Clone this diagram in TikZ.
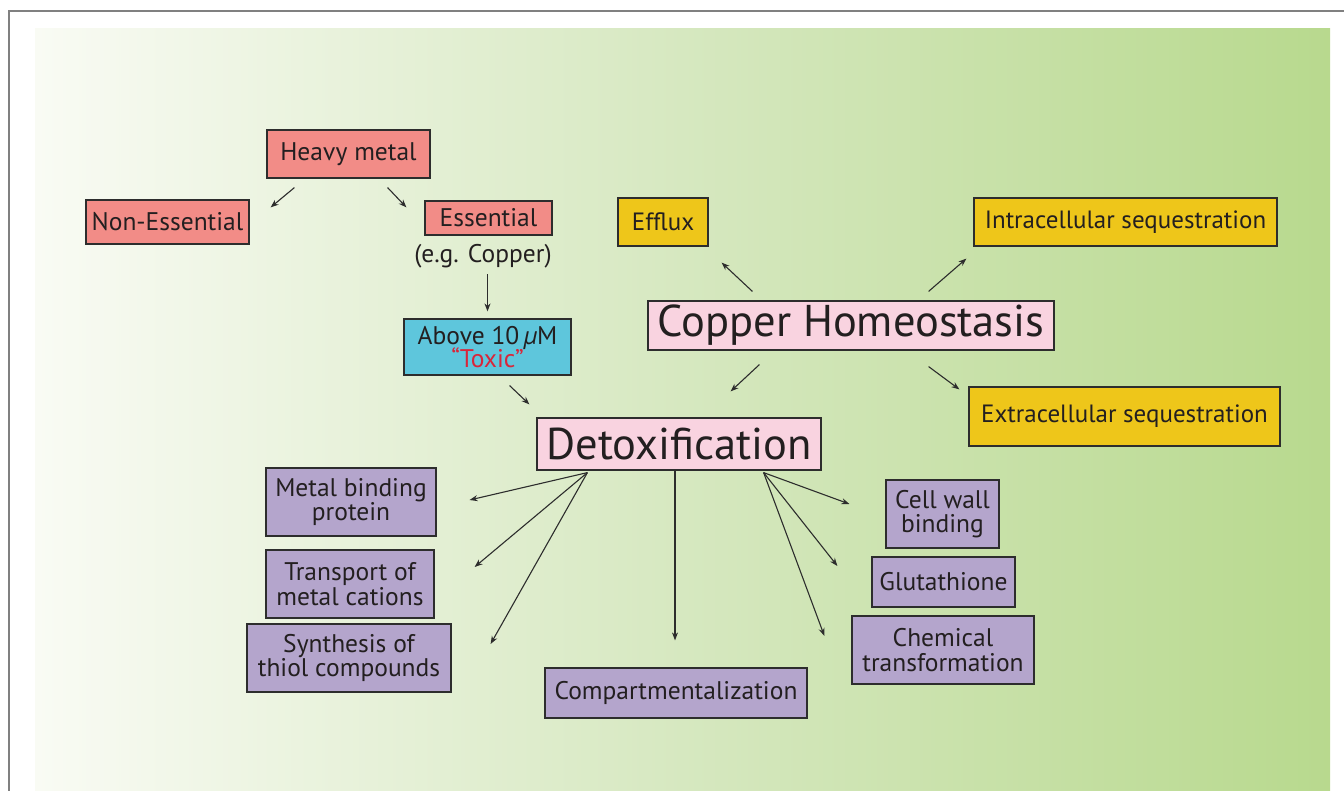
\documentclass[tikz,border=0pt]{standalone}
\usepackage{fontspec}
\setmainfont{PT Sans}
\usetikzlibrary{calc,arrows.meta}
\definecolor{salmon}{RGB}{242,140,135}
\definecolor{cyanbox}{RGB}{94,198,220}
\definecolor{pinkbox}{RGB}{249,211,224}
\definecolor{goldbox}{RGB}{238,198,26}
\definecolor{lavbox}{RGB}{180,165,204}
\definecolor{edge}{RGB}{45,45,45}
\definecolor{ink}{RGB}{35,31,32}
\definecolor{toxred}{RGB}{217,38,58}
\definecolor{bgL}{RGB}{249,251,244}
\definecolor{bgM}{RGB}{214,232,192}
\definecolor{bgR}{RGB}{184,217,142}
\tikzset{
  x=1pt,y=-1pt,
  box/.style={draw=edge,line width=1.2pt,inner sep=0pt,align=center,text=ink,font=\fontsize{25.5}{24.5}\selectfont},
  redbox/.style={box,fill=salmon},
  bluebox/.style={box,fill=cyanbox},
  bigbox/.style={box,fill=pinkbox,font=\fontsize{44.5}{46}\selectfont},
  yelbox/.style={box,fill=goldbox,font=\fontsize{25}{26}\selectfont},
  purbox/.style={box,fill=lavbox},
  arr/.style={draw=edge,line width=1.1pt,-{Stealth[length=8pt,width=6pt]}}
}
\begin{document}
\begin{tikzpicture}
\useasboundingbox (0,0) rectangle (1344,791);
\fill[white] (0,0) rectangle (1344,791);
\shade[left color=bgL,right color=bgR,middle color=bgM] (35,29) rectangle (1330,791);
\draw[gray,line width=1.2pt] (1344,11) -- (9,11) -- (9,791);

\node[redbox,minimum width=163,minimum height=48] (heavy) at (348.5,154) {Heavy metal};
\node[redbox,minimum width=163,minimum height=44] (noness) at (167.5,222) {Non-Essential};
\node[redbox,minimum width=127,minimum height=34] (ess) at (488.5,218) {Essential};
\node[text=ink,font=\fontsize{25.5}{25}\selectfont,inner sep=0pt] (eg) at (483,256) {(e.g. Copper)};
\node[bluebox,minimum width=167,minimum height=56] (above) at (487.5,347) {Above 10\,\textit{µ}M\\[-3pt]\textcolor{toxred}{“Toxic”}};

\node[bigbox,minimum width=406,minimum height=49] (ch) at (851,325.5) {Copper Homeostasis};
\node[yelbox,minimum width=90,minimum height=48] (efflux) at (663,222) {Efflux};
\node[yelbox,minimum width=303,minimum height=48] (intra) at (1125.5,222) {Intracellular sequestration};
\node[yelbox,minimum width=311,minimum height=59] (extra) at (1124.5,416.5) {Extracellular sequestration};

\node[bigbox,minimum width=284,minimum height=52] (detox) at (679,444) {Detoxification};
\node[purbox,minimum width=170,minimum height=68] (mbp) at (351,502) {Metal binding\\protein};
\node[purbox,minimum width=168,minimum height=68] (trans) at (350,584) {Transport of\\metal cations};
\node[purbox,minimum width=204,minimum height=68] (synth) at (349,658) {Synthesis of\\thiol compounds};
\node[purbox,minimum width=262,minimum height=50] (comp) at (676,693) {Compartmentalization};
\node[purbox,minimum width=113,minimum height=68] (cell) at (942.5,514) {Cell wall\\binding};
\node[purbox,minimum width=143,minimum height=50] (glut) at (943.5,582) {Glutathione};
\node[purbox,minimum width=182,minimum height=68] (chem) at (943,650) {Chemical\\transformation};

\draw[arr] ($(heavy.south west)+(28,9)$) -- ($(noness.north east)+(21,8)$);
\draw[arr] ($(heavy.south east)+(-43,9)$) -- ($(ess.north west)+(-18,7)$);
\draw[arr] ($(above.north)+(0,-44)$) -- ($(above.north)+(0,-7)$);
\draw[arr] ($(above.south east)+(-62,10)$) -- ($(detox.north west)+(-7,-13)$);

\draw[arr] ($(ch.north west)+(105,-9)$) -- ($(efflux.south east)+(13,16)$);
\draw[arr] ($(ch.north east)+(-126,-9)$) -- ($(intra.south west)+(-7,12)$);
\draw[arr] ($(ch.south west)+(112,14)$) -- ($(detox.north east)+(-91,-26)$);
\draw[arr] ($(ch.south east)+(-126,16)$) -- ($(extra.north west)+(-9,3)$);

\coordinate (dl) at ($(detox.south west)+(51,2)$);
\coordinate (dr) at ($(detox.south east)+(-58,2)$);
\draw[arr] (dl) -- ($(mbp.east)+(33,-2)$);
\draw[arr] (dl) -- ($(trans.east)+(40,-17)$);
\draw[arr] (dl) -- ($(synth.east)+(39,-14)$);
\draw[arr] ($(detox.south)+(-4,0)$) -- ($(comp.north)+(-1,-27)$);
\draw[arr] (dr) -- ($(cell.west)+(-36,-10)$);
\draw[arr] (dr) -- ($(glut.west)+(-34,-16)$);
\draw[arr] (dr) -- ($(chem.west)+(-27,-14)$);
\end{tikzpicture}
\end{document}
